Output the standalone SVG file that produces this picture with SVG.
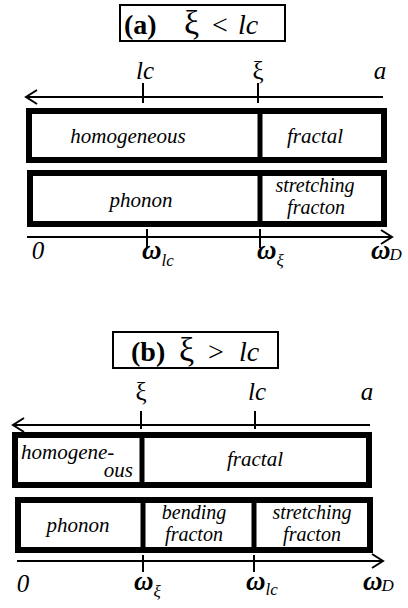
<svg xmlns="http://www.w3.org/2000/svg" width="408" height="608" viewBox="0 0 408 608">
<style>
text{font-family:"Liberation Serif","Times New Roman",serif;fill:#000}
.it{font-style:italic;font-size:21px}
.it2{font-style:italic;font-size:20px}
.lab{font-style:italic;font-size:25px}
.ttl{font-size:28px}
.xi{font-size:34px}
.b{font-weight:bold}
.up{font-style:normal}
.w{font-style:italic;font-size:27px;font-weight:bold}
.sub{font-style:italic;font-size:17px;font-weight:normal}
.box{fill:none;stroke:#000;stroke-width:6}
.div{stroke:#000;stroke-width:5}
.ax{stroke:#000;stroke-width:2;fill:none}
.tk{stroke:#000;stroke-width:2}
.tb{fill:#fff;stroke:#000;stroke-width:2}
</style>
<rect width="408" height="608" fill="#fff"/>

<!-- (a) -->
<g id="title-a">
<rect class="tb" x="120" y="5" width="165" height="36"/>
<text class="ttl" y="34"><tspan class="b" x="124">(a)</tspan><tspan class="xi" x="184">ξ</tspan><tspan x="212">&lt;</tspan><tspan x="238" font-style="italic">lc</tspan></text>
</g>
<g id="axis-a-top">
<line class="ax" x1="26" y1="97" x2="383" y2="97"/>
<polyline class="ax" points="37,90 26,97 37,104"/>
<line class="tk" x1="143" y1="83" x2="143" y2="103"/>
<line class="tk" x1="258" y1="83" x2="258" y2="103"/>
<text class="lab" x="145" y="79" text-anchor="middle">lc</text>
<text class="lab up" x="258" y="79" text-anchor="middle">ξ</text>
<text class="lab" x="380" y="79" text-anchor="middle">a</text>
</g>
<g id="box-a-struct">
<rect class="box" x="29" y="111" width="355" height="49"/>
<line class="div" x1="260" y1="111" x2="260" y2="160"/>
<text class="it" x="128" y="143" text-anchor="middle">homogeneous</text>
<text class="it" x="315" y="143" text-anchor="middle">fractal</text>
</g>
<g id="box-a-vib">
<rect class="box" x="30" y="173" width="354" height="51"/>
<line class="div" x1="260" y1="173" x2="260" y2="224"/>
<text class="it" x="141" y="207" text-anchor="middle">phonon</text>
<text class="it2" text-anchor="middle"><tspan x="315" y="192">stretching</tspan><tspan x="316" y="214">fracton</tspan></text>
</g>
<g id="axis-a-bottom">
<line class="ax" x1="27" y1="237" x2="391" y2="237"/>
<polyline class="ax" points="381,230 392,237 381,244"/>
<line class="tk" x1="147" y1="229" x2="147" y2="248"/>
<line class="tk" x1="260" y1="229" x2="260" y2="248"/>
<text class="lab" x="38" y="259" text-anchor="middle">0</text>
<text class="w" x="142" y="259">ω<tspan class="sub" dy="7" dx="0">lc</tspan></text>
<text class="w" x="257" y="259">ω<tspan class="sub up" dy="7" dx="0">ξ</tspan></text>
<text class="w" x="371" y="259">ω<tspan class="sub up" dy="1" dx="-1">D</tspan></text>
</g>

<!-- (b) -->
<g id="title-b">
<rect class="tb" x="113" y="332" width="165" height="36"/>
<text class="ttl" y="361"><tspan class="b" x="131">(b)</tspan><tspan class="xi" x="179">ξ</tspan><tspan x="208">&gt;</tspan><tspan x="239" font-style="italic">lc</tspan></text>
</g>
<g id="axis-b-top">
<line class="ax" x1="13" y1="425" x2="370" y2="425"/>
<polyline class="ax" points="24,418 13,425 24,432"/>
<line class="tk" x1="141" y1="411" x2="141" y2="429"/>
<line class="tk" x1="255" y1="411" x2="255" y2="429"/>
<text class="lab up" x="141" y="400" text-anchor="middle">ξ</text>
<text class="lab" x="257" y="400" text-anchor="middle">lc</text>
<text class="lab" x="367" y="400" text-anchor="middle">a</text>
</g>
<g id="box-b-struct">
<rect class="box" x="15" y="435" width="354" height="50"/>
<line class="div" x1="142" y1="435" x2="142" y2="485"/>
<text class="it"><tspan x="21" y="459">homogene-</tspan><tspan x="133" y="477" text-anchor="end">ous</tspan></text>
<text class="it" x="255" y="466" text-anchor="middle">fractal</text>
</g>
<g id="box-b-vib">
<rect class="box" x="18" y="500" width="352" height="50"/>
<line class="div" x1="143" y1="500" x2="143" y2="550"/>
<line class="div" x1="254" y1="500" x2="254" y2="550"/>
<text class="it" x="78" y="532" text-anchor="middle">phonon</text>
<text class="it2" text-anchor="middle"><tspan x="194" y="519">bending</tspan><tspan x="194" y="541">fracton</tspan></text>
<text class="it2" text-anchor="middle"><tspan x="312" y="519">stretching</tspan><tspan x="312" y="541">fracton</tspan></text>
</g>
<g id="axis-b-bottom">
<line class="ax" x1="17" y1="561" x2="382" y2="561"/>
<polyline class="ax" points="372,554 383,561 372,568"/>
<line class="tk" x1="143" y1="555" x2="143" y2="572"/>
<line class="tk" x1="254" y1="555" x2="254" y2="572"/>
<text class="lab" x="23" y="592" text-anchor="middle">0</text>
<text class="w" x="134" y="590">ω<tspan class="sub up" dy="7" dx="0">ξ</tspan></text>
<text class="w" x="246" y="590">ω<tspan class="sub" dy="5" dx="0">lc</tspan></text>
<text class="w" x="363" y="590">ω<tspan class="sub up" dy="1" dx="-1">D</tspan></text>
</g>
</svg>
